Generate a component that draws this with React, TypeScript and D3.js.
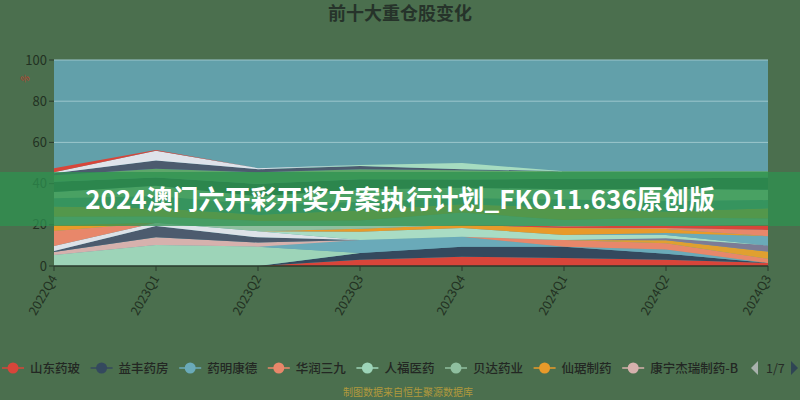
import React from "react";
import * as d3 from "d3";

const title = "前十大重仓股变化";
const bannerText = "2024澳门六开彩开奖方案执行计划_FKO11.636原创版";
const sourceText = "制图数据来自恒生聚源数据库";
const quarters = ["2022Q4", "2023Q1", "2023Q2", "2023Q3", "2023Q4", "2024Q1", "2024Q2", "2024Q3"];
const yTicks = [0, 20, 40, 60, 80, 100];

// stack order bottom -> top
const seriesNames = [
  "山东药玻", "益丰药房", "人福医药", "药明康德", "康宁杰瑞制药-B", "爱尔眼科", "迈瑞医疗", "华润三九",
  "云南白药", "泰格医药", "恒瑞医药", "片仔癀", "仙琚制药", "长春高新", "九洲药业",
  "贝达药业", "智飞生物", "凯莱英", "我武生物", "通策医疗", "华东医药",
  "昭衍新药", "美年健康", "百济神州", "新和成",
];
const seriesColors = [
  "#d8453a", "#34495e", "#9dd4b8", "#6aaab9", "#d6b1ad", "#4c5b6e", "#dde2e8", "#e8876a",
  "#e0a030", "#7c7c96", "#a9dcc4", "#6aaab9", "#e89a2a", "#e8876a", "#d8453a",
  "#8fbf9f", "#c2a83e", "#4f9a86", "#9ad09a", "#2a6644", "#5ea66a",
  "#4c5b6e", "#a6dcc0", "#dfe3ea", "#d8453a",
];
const v0 = [0, 0, 0, 3, 4.5, 3.9, 3, 1.5];
const v1 = [0, 0, 0, 3.3, 4.9, 5.5, 3, 0];
const v2 = [5.3, 10.2, 9.4, 0, 0, 0, 0, 0];
const v3 = [0, 0, 0, 6.3, 4.8, 0, 2, 0];
const v4 = [1.5, 3.8, 2, 0, 0, 0, 0, 0];
const v5 = [0.5, 5.4, 2.5, 0, 0, 0, 0, 0];
const v6 = [2.4, 1.6, 3, 0, 0, 0, 0, 0];
const v7 = [7.3, 0, 0, 0, 0, 3.2, 3, 2];
const v8 = [0, 0, 0, 0, 0, 0, 1.5, 3.5];
const v9 = [0, 0, 0, 0, 0, 0, 1, 3];
const v10 = [0, 0, 0, 4, 4.2, 2.5, 1.5, 0];
const v11 = [0, 0, 0, 0, 0, 0, 1, 4.5];
const v12 = [2.9, 0, 0, 1.5, 1.6, 3.4, 2, 0];
const v13 = [0, 0, 0, 0, 0, 0, 0.5, 3];
const v14 = [0, 0, 0, 0, 0, 0.8, 1, 2.5];
const v15 = [4, 3, 5, 4, 6, 3, 4, 3];
const v16 = [5, 4, 3, 5, 4, 6, 3, 5];
const v17 = [4, 6, 5, 4, 3, 4, 5, 4];
const v18 = [3, 5, 4, 6, 5, 5, 6, 5];
const v19 = [5, 4, 6, 5, 4, 5, 5, 6];
const v20 = [3.1, 4.2, 5.6, 4.9, 4.5, 3.7, 3.5, 3];
const v21 = [1, 4, 1.5, 1.5, 0.5, 0, 0, 0];
const v22 = [0, 0, 0, 0.5, 3, 0, 0, 0];
const v23 = [0.5, 4.8, 0.5, 0, 0, 0, 0, 0];
const v24 = [2, 0.3, 0, 0, 0, 0, 0, 0];
const seriesValues = [v0, v1, v2, v3, v4, v5, v6, v7, v8, v9, v10, v11, v12, v13, v14, v15, v16, v17, v18, v19, v20, v21, v22, v23, v24];

const legendNames = ["山东药玻", "益丰药房", "药明康德", "华润三九", "人福医药", "贝达药业", "仙琚制药", "康宁杰瑞制药-B"];
const legendColors = ["#d8453a", "#34495e", "#6aaab9", "#e8876a", "#9dd4b8", "#8fbf9f", "#e89a2a", "#d6b1ad"];
const pageText = "1/7";

const W = 800, H = 400;
const M = { left: 54, right: 32, top: 60, bottom: 134 };
const FONT = "'Noto Sans CJK SC', 'Noto Sans', sans-serif";

export default function App() {
  const x = d3.scaleLinear().domain([0, quarters.length - 1]).range([M.left, W - M.right]);
  const y = d3.scaleLinear().domain([0, 100]).range([H - M.bottom, M.top]);

  const rows = quarters.map((q, i) => {
    const r: any = { q };
    seriesNames.forEach((n, k) => (r[n] = seriesValues[k][i]));
    return r;
  });
  const stacked = d3.stack().keys(seriesNames)(rows);
  const area = d3
    .area<any>()
    .x((_d: any, i: number) => x(i))
    .y0((d: any) => y(d[0]))
    .y1((d: any) => y(d[1]));

  const plotH = y(0) - y(100);
  const legendY = 368;

  return (
    <svg width={W} height={H} style={{ position: "absolute", left: 0, top: 0, fontFamily: FONT }}>
      <rect x={0} y={0} width={W} height={H} fill="#4b6f4e" />
      <text x={400} y={20} textAnchor="middle" fontSize={18} fontWeight="bold" fill="#26332a">
        {title}
      </text>
      {/* plot background */}
      <rect x={x(0)} y={y(100)} width={x(quarters.length - 1) - x(0)} height={plotH} fill="#62a0aa" />
      {yTicks.map((t) => (
        <g key={t}>
          {t > 0 && (
            <line x1={x(0)} x2={x(quarters.length - 1)} y1={y(t)} y2={y(t)} stroke="#9cc6cc" strokeWidth={1} />
          )}
          <line x1={x(0) - 5} x2={x(0)} y1={y(t)} y2={y(t)} stroke="#2a3a2c" strokeWidth={1} />
          <text x={x(0) - 7} y={y(t) + 4.5} textAnchor="end" fontSize={13} fill="#223122">
            {t}
          </text>
        </g>
      ))}
      <text x={21} y={84} fontSize={9} fill="#c0392b" transform="rotate(-30 21 80)">%</text>
      {stacked.map((s: any, k: number) => (
        <path key={k} d={area(s) || ""} fill={seriesColors[k]} stroke="none" />
      ))}
      {/* x axis */}
      <line x1={x(0)} x2={x(quarters.length - 1)} y1={y(0)} y2={y(0)} stroke="#2a3a2c" strokeWidth={1.5} />
      {quarters.map((q, i) => (
        <g key={q}>
          <line x1={x(i)} x2={x(i)} y1={y(0)} y2={y(0) + 5} stroke="#2a3a2c" />
          <text
            x={x(i)}
            y={y(0) + 10}
            textAnchor="end"
            fontSize={12.5}
            fill="#223122"
            transform={`rotate(-60 ${x(i)} ${y(0) + 10})`}
            dy="0.35em"
          >
            {q}
          </text>
        </g>
      ))}
      {/* legend */}
      {legendNames.map((n, i) => {
        const cx = 13 + i * 88.6;
        return (
          <g key={n}>
            <line x1={cx - 11} x2={cx + 11} y1={legendY} y2={legendY} stroke={legendColors[i]} strokeWidth={1.5} />
            <circle cx={cx} cy={legendY} r={5.5} fill={legendColors[i]} />
            <text x={cx + 17} y={legendY + 4.5} fontSize={12.5} fontWeight={500} fill="#232723">
              {n}
            </text>
          </g>
        );
      })}
      <path d={`M758,${legendY - 7} L751,${legendY} L758,${legendY + 7} Z`} fill="#a9b2ad" />
      <text x={766} y={legendY + 4.5} fontSize={12.5} fill="#262a26">{pageText}</text>
      <path d={`M791,${legendY - 7} L798,${legendY} L791,${legendY + 7} Z`} fill="#2f4554" />
      <text x={343} y={396} fontSize={10} fill="#c9a43a" opacity={0.8}>{sourceText}</text>
      {/* banner overlay */}
      <rect x={0} y={172} width={W} height={54} fill="#2e9150" opacity={0.75} />
      <text x={400} y={209} textAnchor="middle" fontSize={26} fontWeight="bold" fill="#ffffff">
        {bannerText}
      </text>
    </svg>
  );
}
